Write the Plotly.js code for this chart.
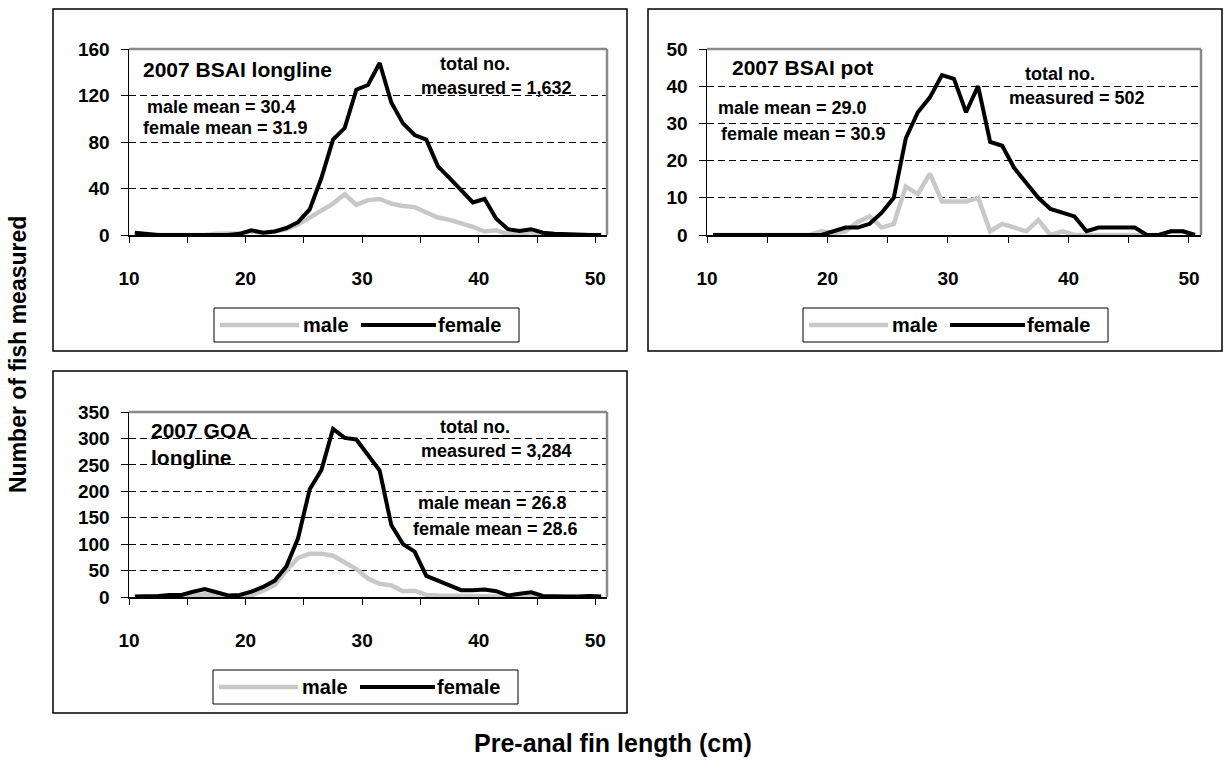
<!DOCTYPE html>
<html>
<head>
<meta charset="utf-8">
<script src="https://cdn.plot.ly/plotly-3.0.1.min.js"></script>
<style>html,body{margin:0;padding:0;background:#fff}#chart{width:1225px;height:768px}</style>
</head>
<body>
<div id="chart"></div>
<script>
// ---- data ----
const lengthsCm = [10,11,12,13,14,15,16,17,18,19,20,21,22,23,24,25,26,27,28,29,30,
                   31,32,33,34,35,36,37,38,39,40,41,42,43,44,45,46,47,48,49,50];
const seriesNames = ['male', 'female'];

const bsaiLonglineMale   = [0,0,0,0,0,0,0,1,1,1.5,3,2,3,5,9,15,22,27,35,26,30,
                            31,27,25,24,19,15,13,10,7,3,4,1,0.5,2.5,0,0,0,0,0,0];
const bsaiLonglineFemale = [2,1,0,0,0,0,0,0,0,1,4,2,3,6,11,22,49,82,92,125,129,
                            148,114,96,86,82,59,49,39,28,31,14,5,3.5,5,2,1,0.5,0,0,0];

const bsaiPotMale   = [0,0,0,0,0,0,0,0,0,1,0.5,1,3.5,5,2,3,13,11,16.5,9,9,
                       9,10,1,3,2,1,4,0,1,0,0,0,0,0,0,0,0,1,1,0];
const bsaiPotFemale = [0,0,0,0,0,0,0,0,0,0,1,2,2,3,6,10,26,33,37,43,42,
                       33,40,25,24,18,14,10,7,6,5,1,2,2,2,2,0,0,1,1,0];

const goaLonglineMale   = [0,0,0,0,0,2,5,2,1,1,3,12,23,50,74,82,82,78,66,53,35,
                           25,22,11,12,4,3,3,2,2,2,1,0,0,1,0,0,0,0,0,0];
const goaLonglineFemale = [1,1,2,4,4,10,15,9,3,4,10,19,31,58,111,204,240,318,301,298,268,
                           239,136,100,86,40,31,21,13,13,14,11,3,6,9,2,1,1,1,2,1];

const xTickVals  = [9.5,14.5,19.5,24.5,29.5,34.5,39.5,44.5,49.5];
const xTickText  = ['10','','20','','30','','40','','50'];

const panels = [
  {male: bsaiLonglineMale, female: bsaiLonglineFemale, yMax: 160, yStep: 40,
   title: '2007 BSAI longline', total: 'total no.', measured: 'measured = 1,632',
   maleMean: 'male mean = 30.4', femaleMean: 'female mean = 31.9'},
  {male: bsaiPotMale, female: bsaiPotFemale, yMax: 50, yStep: 10,
   title: '2007 BSAI pot', total: 'total no.', measured: 'measured = 502',
   maleMean: 'male mean = 29.0', femaleMean: 'female mean = 30.9'},
  {male: goaLonglineMale, female: goaLonglineFemale, yMax: 350, yStep: 50,
   title: '2007 GOA<br>longline', total: 'total no.', measured: 'measured = 3,284',
   maleMean: 'male mean = 26.8', femaleMean: 'female mean = 28.6'}
];

// ---- layout geometry (pixels) ----
const W = 1225, H = 768;
const px = v => v / W;
const py = v => 1 - v / H;
const FONT = '"Liberation Sans", Arial, sans-serif';
const fnt = (s) => ({family: FONT, size: s, color: '#000', weight: 'bold'});

const geo = [
  {plot: [129, 49, 607, 235], box: [53, 9, 627, 351], legend: [214, 308],
   ann: {title: [141, 69, 'left'], total: [475, 64], measured: [496, 88], maleMean: [221, 107], femaleMean: [225, 128]}},
  {plot: [707, 49, 1201, 235], box: [648, 9, 1222, 351], legend: [803, 308],
   ann: {title: [730, 68, 'left'], total: [1060, 74], measured: [1077, 98], maleMean: [792, 108], femaleMean: [803, 134]}},
  {plot: [129, 412, 607, 597], box: [53, 371, 627, 713], legend: [213, 670],
   ann: {title: [149, 444, 'left'], total: [475, 427], measured: [496, 451], maleMean: [492, 503], femaleMean: [495, 529]}}
];

const maleColor = '#c8c8c8';
const femaleColor = '#000000';

const traces = [];
const layout = {
  width: W, height: H,
  margin: {l: 0, r: 0, t: 0, b: 0},
  paper_bgcolor: '#fff', plot_bgcolor: '#fff',
  showlegend: false,
  font: fnt(18),
  shapes: [], annotations: []
};

panels.forEach((p, i) => {
  const g = geo[i];
  const sx = i === 0 ? '' : String(i + 1);
  const xa = 'x' + sx, ya = 'y' + sx;
  traces.push({x: lengthsCm, y: p.male, xaxis: xa, yaxis: ya, type: 'scatter', mode: 'lines',
               name: seriesNames[0], line: {color: maleColor, width: 4.5}, hoverinfo: 'x+y'});
  traces.push({x: lengthsCm, y: p.female, xaxis: xa, yaxis: ya, type: 'scatter', mode: 'lines',
               name: seriesNames[1], line: {color: femaleColor, width: 4}, hoverinfo: 'x+y'});

  layout['xaxis' + sx] = {
    domain: [px(g.plot[0]), px(g.plot[2])], anchor: ya,
    range: [9.5, 50.5], tickmode: 'array', tickvals: xTickVals, ticktext: xTickText,
    ticks: 'outside', ticklen: 6, tickwidth: 1, tickcolor: '#000',
    showline: true, linecolor: '#000', linewidth: 1.5,
    showgrid: false, zeroline: false, tickfont: fnt(19), ticklabelstandoff: 20, fixedrange: true
  };
  layout['yaxis' + sx] = {
    domain: [py(g.plot[3]), py(g.plot[1])], anchor: xa,
    range: [0, p.yMax], tick0: 0, dtick: p.yStep,
    ticks: 'outside', ticklen: 7, tickwidth: 1, tickcolor: '#000',
    showline: true, linecolor: '#000', linewidth: 1.5,
    showgrid: true, gridcolor: '#000', gridwidth: 1, griddash: '7px,4px',
    zeroline: false, tickfont: fnt(19), ticklabelstandoff: 7, fixedrange: true
  };

  // gray plot-area border (top & right)
  layout.shapes.push({type: 'line', xref: xa + ' domain', yref: ya + ' domain', x0: 0, x1: 1, y0: 1, y1: 1,
                      line: {color: '#8a8a8a', width: 2.5}, layer: 'above'});
  layout.shapes.push({type: 'line', xref: xa + ' domain', yref: ya + ' domain', x0: 1, x1: 1, y0: 0, y1: 1,
                      line: {color: '#8a8a8a', width: 2.5}, layer: 'above'});
  // outer chart box
  layout.shapes.push({type: 'rect', xref: 'paper', yref: 'paper',
                      x0: px(g.box[0]), x1: px(g.box[2]), y0: py(g.box[3]), y1: py(g.box[1]),
                      line: {color: '#000', width: 1.5}, fillcolor: 'rgba(0,0,0,0)'});

  // legend (manual, to get Excel-like long samples)
  const lx = g.legend[0], ly = g.legend[1];
  layout.shapes.push({type: 'rect', xref: 'paper', yref: 'paper',
                      x0: px(lx), x1: px(lx + 305), y0: py(ly + 34), y1: py(ly),
                      line: {color: '#000', width: 1}, fillcolor: '#fff'});
  layout.shapes.push({type: 'line', xref: 'paper', yref: 'paper',
                      x0: px(lx + 6), x1: px(lx + 85), y0: py(ly + 17), y1: py(ly + 17),
                      line: {color: maleColor, width: 4.5}});
  layout.shapes.push({type: 'line', xref: 'paper', yref: 'paper',
                      x0: px(lx + 147), x1: px(lx + 222), y0: py(ly + 17), y1: py(ly + 17),
                      line: {color: femaleColor, width: 4}});
  layout.annotations.push({xref: 'paper', yref: 'paper', x: px(lx + 87), y: py(ly + 17),
                           xanchor: 'left', yanchor: 'middle', text: seriesNames[0], showarrow: false, font: fnt(20)});
  layout.annotations.push({xref: 'paper', yref: 'paper', x: px(lx + 222), y: py(ly + 17),
                           xanchor: 'left', yanchor: 'middle', text: seriesNames[1], showarrow: false, font: fnt(20)});

  // in-plot texts
  const a = g.ann;
  layout.annotations.push({xref: 'paper', yref: 'paper', x: px(a.title[0]), y: py(a.title[1]),
                           xanchor: 'left', yanchor: 'middle', align: 'left', text: p.title,
                           showarrow: false, font: fnt(21)});
  [['total', p.total], ['measured', p.measured], ['maleMean', p.maleMean], ['femaleMean', p.femaleMean]].forEach(([k, t]) => {
    layout.annotations.push({xref: 'paper', yref: 'paper', x: px(a[k][0]), y: py(a[k][1]),
                             xanchor: 'center', yanchor: 'middle', text: t, showarrow: false, font: fnt(18)});
  });
});

// white text box behind "2007 GOA longline" (hides gridlines like the original)
layout.shapes.push({type: 'rect', xref: 'paper', yref: 'paper',
                    x0: px(131), x1: px(267), y0: py(473), y1: py(416),
                    line: {width: 0}, fillcolor: '#fff', layer: 'between'});

// shared axis titles
layout.annotations.push({xref: 'paper', yref: 'paper', x: px(18), y: py(355), textangle: -90,
                         xanchor: 'center', yanchor: 'middle', text: 'Number of fish measured',
                         showarrow: false, font: fnt(23)});
layout.annotations.push({xref: 'paper', yref: 'paper', x: px(613), y: py(743),
                         xanchor: 'center', yanchor: 'middle', text: 'Pre-anal fin length (cm)',
                         showarrow: false, font: fnt(25)});

Plotly.newPlot('chart', traces, layout, {staticPlot: true, displayModeBar: false});
</script>
</body>
</html>
